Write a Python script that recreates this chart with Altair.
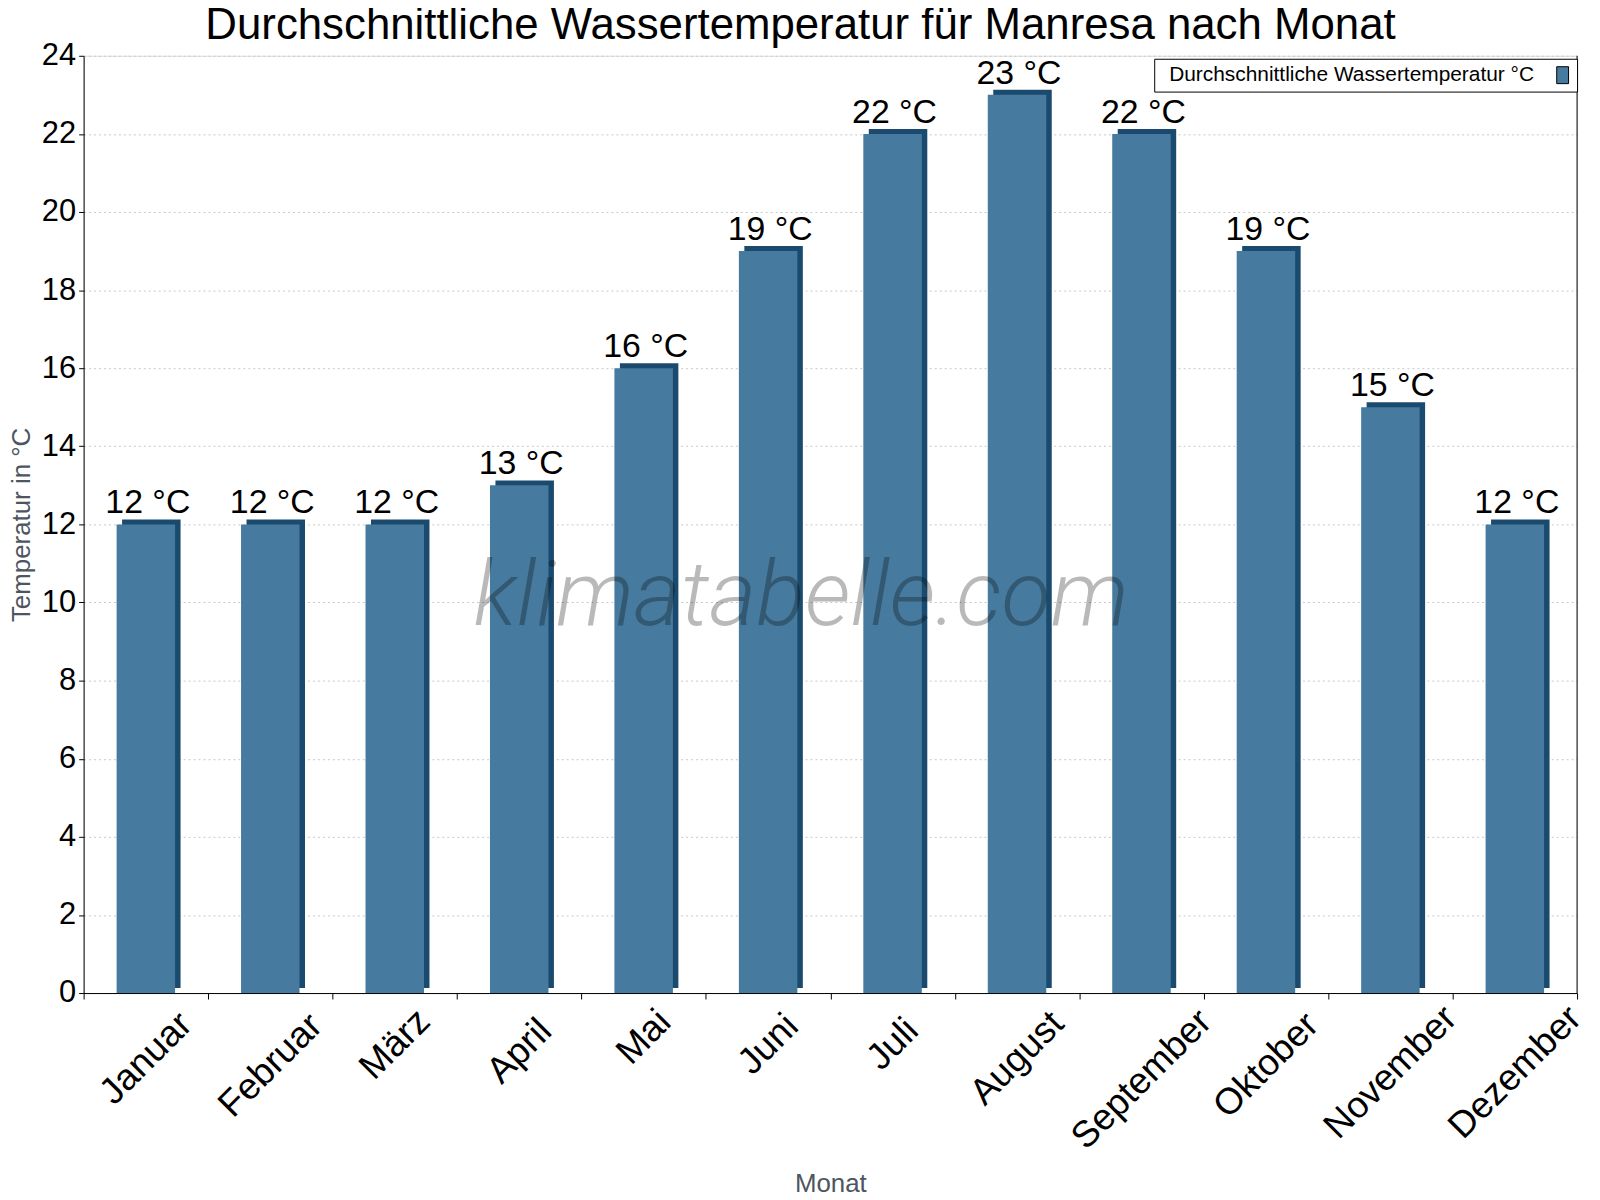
import altair as alt
import pandas as pd

months = ["Januar", "Februar", "März", "April", "Mai", "Juni", "Juli",
          "August", "September", "Oktober", "November", "Dezember"]
temps = [12, 12, 12, 13, 16, 19, 22, 23, 22, 19, 15, 12]
labels = [f"{t} °C" for t in temps]
series_name = "Durchschnittliche Wassertemperatur °C"

title_text = "Durchschnittliche Wassertemperatur für Manresa nach Monat"
y_title = "Temperatur in °C"
x_title = "Monat"
watermark = "klimatabelle.com"

FRONT = "#467a9e"
DARK = "#1a4b6e"
FONT = "Liberation Sans"
W, H = 1501, 942

df = pd.DataFrame({"Monat": months, "Temp": temps, "Label": labels,
                   "Serie": [series_name] * len(months)})

x_enc = alt.X("Monat:N", sort=months,
              scale=alt.Scale(paddingInner=0, paddingOuter=0),
              axis=alt.Axis(title=x_title, tickBand="extent", labelAngle=-45,
                            labelAlign="center", labelBaseline="middle",
                            labelPadding={"expr": "17 + 7.07 * length(datum.label)"},
                            labelFontSize=37, labelFont=FONT,
                            labelColor="black", labelOverlap=False,
                            labelLimit=500,
                            tickSize=6, tickColor="black", domainColor="black",
                            titleFontSize=26, titleFont=FONT, titleColor="#4d5560",
                            titleFontWeight="normal", titleY=199,
                            titleBaseline="alphabetic", grid=False))
y_enc = alt.Y("Temp:Q", scale=alt.Scale(domain=[0, 24], nice=False),
              axis=alt.Axis(title=y_title, values=list(range(0, 25, 2)),
                            labelFontSize=31, labelFont=FONT, labelColor="black",
                            labelPadding=3, tickSize=5, tickColor="black",
                            domainColor="black", grid=True, gridColor="#c8c8c8",
                            gridDash=[2, 3], gridWidth=1,
                            titleFontSize=26, titleFont=FONT, titleColor="#4d5560",
                            titleFontWeight="normal", titleX=-54,
                            titleBaseline="alphabetic"))

base = alt.Chart(df)

dark = base.mark_bar(width=alt.RelativeBandSize(0.47), color=DARK,
                     xOffset=5.5, x2Offset=5.5, yOffset=-5, y2Offset=-5).encode(
    x=x_enc, y=y_enc)

front = base.mark_bar(width=alt.RelativeBandSize(0.47)).encode(
    x=x_enc, y=y_enc,
    color=alt.Color("Serie:N",
                    scale=alt.Scale(domain=[series_name], range=[FRONT]),
                    legend=alt.Legend(title=None, orient="none", legendX=1076,
                                      legendY=3, strokeColor="black",
                                      fillColor="white", padding=6,
                                      labelFontSize=21, labelFont=FONT,
                                      labelColor="black", labelLimit=600,
                                      symbolType="M-0.7,-1H0.7V1H-0.7Z",
                                      symbolSize=289, symbolStrokeColor="black",
                                      symbolStrokeWidth=1, symbolOpacity=1,
                                      symbolOffset=394,
                                      labelOffset={"expr": "-406"})))

text = base.mark_text(fontSize=34, font=FONT, color="black", dy=-11, dx=2,
                      baseline="alphabetic").encode(
    x=alt.X("Monat:N", sort=months), y="Temp:Q", text="Label:N")

wm = alt.Chart(pd.DataFrame({"t": [watermark]})).mark_text(
    fontSize=91, font="Roboto", fontStyle="italic", fontWeight=300,
    color="black", opacity=0.27, align="center", baseline="alphabetic").encode(
    x=alt.value(721), y=alt.value(572), text="t:N")

border = alt.Chart(pd.DataFrame({"a": [0]})).mark_rule(
    color="black", strokeWidth=1).encode(
    x=alt.value(W), y=alt.value(0), y2=alt.value(H))

chart = alt.layer(dark, front, text, wm, border).properties(
    width=W, height=H,
    title=alt.TitleParams(title_text, fontSize=44, font=FONT, color="black",
                          fontWeight="normal", anchor="middle", offset=20,
                          dx=-30, dy=28),
    autosize=alt.AutoSizeParams(type="none"),
    padding={"left": 76, "top": 45, "right": 15, "bottom": 206},
).configure_view(stroke=None).configure(background="white")

chart.save("out.html", embed_options={"renderer": "svg", "actions": False})
